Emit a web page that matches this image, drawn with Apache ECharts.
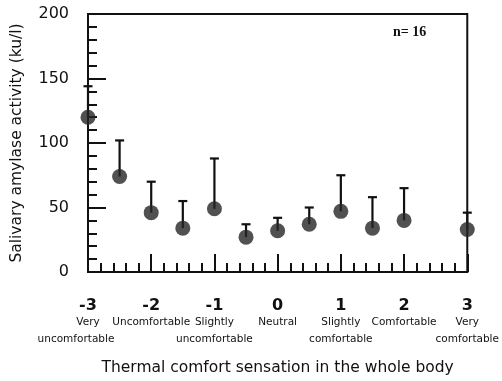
<!DOCTYPE html>
<html>
<head>
<meta charset="utf-8">
<script src="https://cdn.jsdelivr.net/npm/echarts@6/dist/echarts.min.js"></script>
<style>html,body{margin:0;padding:0;background:#fff}#c{width:502px;height:381px}</style>
</head>
<body>
<div id="c"></div>
<script>
var sensation = [-3, -2.5, -2, -1.5, -1, -0.5, 0, 0.5, 1, 1.5, 2, 3];
var meanValues = [120, 74, 46, 34, 49, 27, 32, 37, 47, 34, 40, 33];
var upperValues = [144, 102, 70, 55, 88, 37, 42, 50, 75, 58, 65, 46];
var tickNumbers = ['-3', '-2', '-1', '0', '1', '2', '3'];
var tickLine2 = ['Very', 'Uncomfortable', 'Slightly', 'Neutral', 'Slightly', 'Comfortable', 'Very'];
var tickLine3 = ['uncomfortable', '', 'uncomfortable', '', 'comfortable', '', 'comfortable'];
var yTicks = [0, 50, 100, 150, 200];

var FONT = '"DejaVu Sans", Verdana, sans-serif';
var chart = echarts.init(document.getElementById('c'), null, {renderer: 'canvas'});

var points = sensation.map(function (x, i) { return [x, meanValues[i]]; });
var bars = sensation.map(function (x, i) { return [x, meanValues[i], upperValues[i]]; });

chart.setOption({
  animation: false,
  grid: {left: 88, right: 33, top: 14, bottom: 107, show: true, borderColor: '#111', borderWidth: 2, backgroundColor: 'transparent'},
  graphic: [{
    type: 'text', left: 393, top: 25,
    style: {text: 'n= 16', font: 'bold 14px "Liberation Serif", "Times New Roman", serif', fill: '#111'}
  }],
  xAxis: [{
    type: 'value', min: -3, max: 3, interval: 1, position: 'bottom',
    axisLine: {onZero: false, lineStyle: {color: '#111', width: 2}},
    axisTick: {inside: true, length: 18, lineStyle: {color: '#111', width: 2}},
    minorTick: {show: true, splitNumber: 5, length: 9, lineStyle: {color: '#111', width: 2}},
    splitLine: {show: false},
    axisLabel: {show: false},
    name: 'Thermal comfort sensation in the whole body',
    nameLocation: 'middle', nameGap: 88,
    nameTextStyle: {fontSize: 15.5, fontFamily: FONT, color: '#111'}
  }, {
    type: 'category', data: tickNumbers, boundaryGap: false, position: 'top', offset: -260,
    axisLine: {show: false}, axisTick: {show: false}, splitLine: {show: false},
    axisLabel: {
      inside: true, interval: 0, margin: 24,
      formatter: function (v, idx) {
        var s = '{n|' + v + '}\n{d|' + tickLine2[idx] + '}';
        if (tickLine3[idx]) s += '\n{' + (idx === 0 ? 'dl' : 'd') + '|' + tickLine3[idx] + '}';
        return s;
      },
      rich: {
        n: {fontSize: 16, fontWeight: 'bold', fontFamily: FONT, color: '#111', lineHeight: 16},
        d: {fontSize: 10.5, fontFamily: FONT, color: '#111', lineHeight: 17},
        dl: {fontSize: 10.5, fontFamily: FONT, color: '#111', lineHeight: 17, padding: [0, 24, 0, 0]}
      }
    }
  }],
  yAxis: {
    type: 'value', min: 0, max: 200, interval: 50,
    axisLine: {show: true, onZero: false, lineStyle: {color: '#111', width: 2}},
    axisTick: {show: true, inside: true, length: 18, lineStyle: {color: '#111', width: 2}},
    minorTick: {show: true, splitNumber: 5, length: 9, lineStyle: {color: '#111', width: 2}},
    splitLine: {show: false},
    axisLabel: {margin: 19, fontSize: 16, fontFamily: FONT, color: '#111'},
    name: 'Salivary amylase activity (ku/l)',
    nameLocation: 'middle', nameGap: 63,
    nameTextStyle: {fontSize: 15.5, fontFamily: FONT, color: '#111'}
  },
  series: [
    {
      type: 'custom', data: bars, clip: false, z: 2, xAxisIndex: 0,
      renderItem: function (params, api) {
        var x = api.value(0);
        var p0 = api.coord([x, api.value(1)]);
        var p1 = api.coord([x, api.value(2)]);
        var st = {stroke: '#111', lineWidth: 2.2};
        return {type: 'group', children: [
          {type: 'line', shape: {x1: p0[0], y1: p0[1], x2: p1[0], y2: p1[1]}, style: st},
          {type: 'line', shape: {x1: p1[0] - 4.5, y1: p1[1], x2: p1[0] + 4.5, y2: p1[1]}, style: st}
        ]};
      }
    },
    {
      type: 'scatter', data: points, symbol: 'circle', symbolSize: 15, clip: false, z: 3, xAxisIndex: 0,
      itemStyle: {color: '#252525'}
    }
  ]
});
</script>
</body>
</html>
